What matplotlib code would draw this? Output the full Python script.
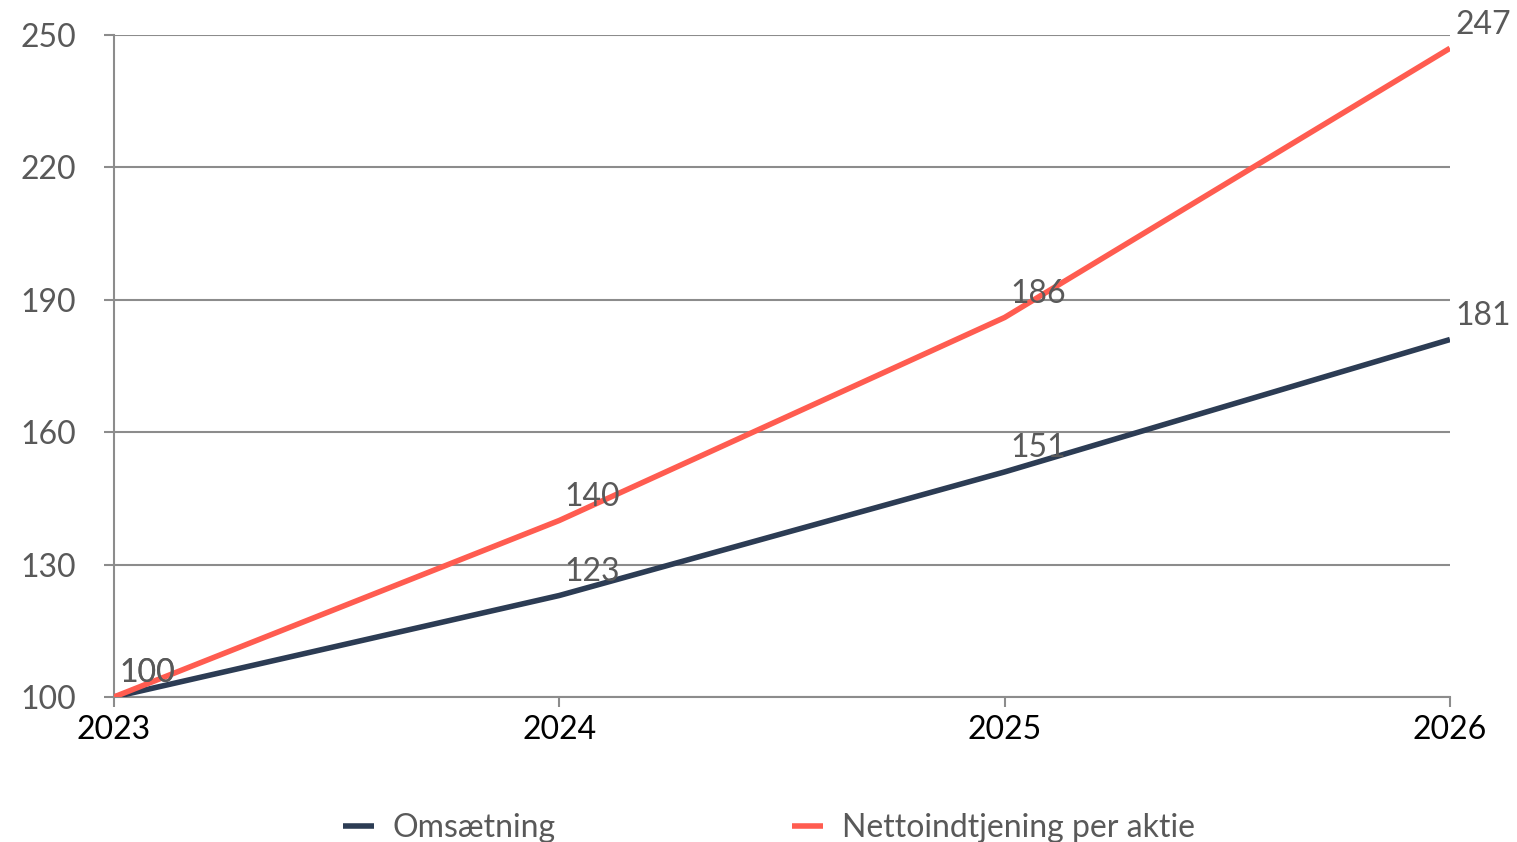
import matplotlib
matplotlib.use("Agg")
import matplotlib.pyplot as plt

plt.rcParams['font.family'] = ['Lato', 'DejaVu Sans']

years = [2023, 2024, 2025, 2026]
omsaetning = [100, 123, 151, 181]
netto_eps = [100, 140, 186, 247]
series_names = ["Omsætning", "Nettoindtjening per aktie"]
yticks = [100, 130, 160, 190, 220, 250]

navy = "#2c3c54"
red = "#ff5c50"
grid_col = "#8c8c8c"
label_col = "#595959"
fs = 23

fig = plt.figure(figsize=(15.17, 8.42), dpi=100)
ax = fig.add_axes([0.0751, 0.1722, 0.8807, 0.7862])

ax.plot(years, omsaetning, color=navy, lw=4, label=series_names[0], solid_capstyle='butt', zorder=3)
ax.plot(years, netto_eps, color=red, lw=4, label=series_names[1], solid_capstyle='butt', zorder=3)

for x, y in zip(years, omsaetning):
    ax.annotate(str(y), (x, y), xytext=(4, 17), textcoords='offset points',
                ha='left', va='center', fontsize=fs, color=label_col, zorder=4)
for x, y in zip(years, netto_eps):
    ax.annotate(str(y), (x, y), xytext=(4, 17), textcoords='offset points',
                ha='left', va='center', fontsize=fs, color=label_col, zorder=4)

ax.set_xlim(2023, 2026)
ax.set_ylim(100, 250)
ax.set_xticks(years)
ax.set_yticks(yticks)
ax.yaxis.grid(True, color=grid_col, lw=1.5)
ax.set_axisbelow(True)

for s in ['top', 'right']:
    ax.spines[s].set_visible(False)
for s in ['left', 'bottom']:
    ax.spines[s].set_color(grid_col)
    ax.spines[s].set_linewidth(1.5)

ax.tick_params(axis='y', colors=grid_col, labelcolor=label_col, labelsize=fs, length=7, width=1.5, pad=20)
ax.tick_params(axis='x', colors=grid_col, labelcolor='black', labelsize=fs, length=7, width=1.5, pad=6)
for lbl in ax.get_xticklabels():
    lbl.set_clip_on(False)

fig.legend(loc='lower center', bbox_to_anchor=(0.507, -0.035), ncol=2, frameon=False,
           fontsize=fs, handlelength=0.95, handletextpad=0.6, columnspacing=7.4,
           labelcolor=label_col)

fig.savefig("out.png", dpi=100)
